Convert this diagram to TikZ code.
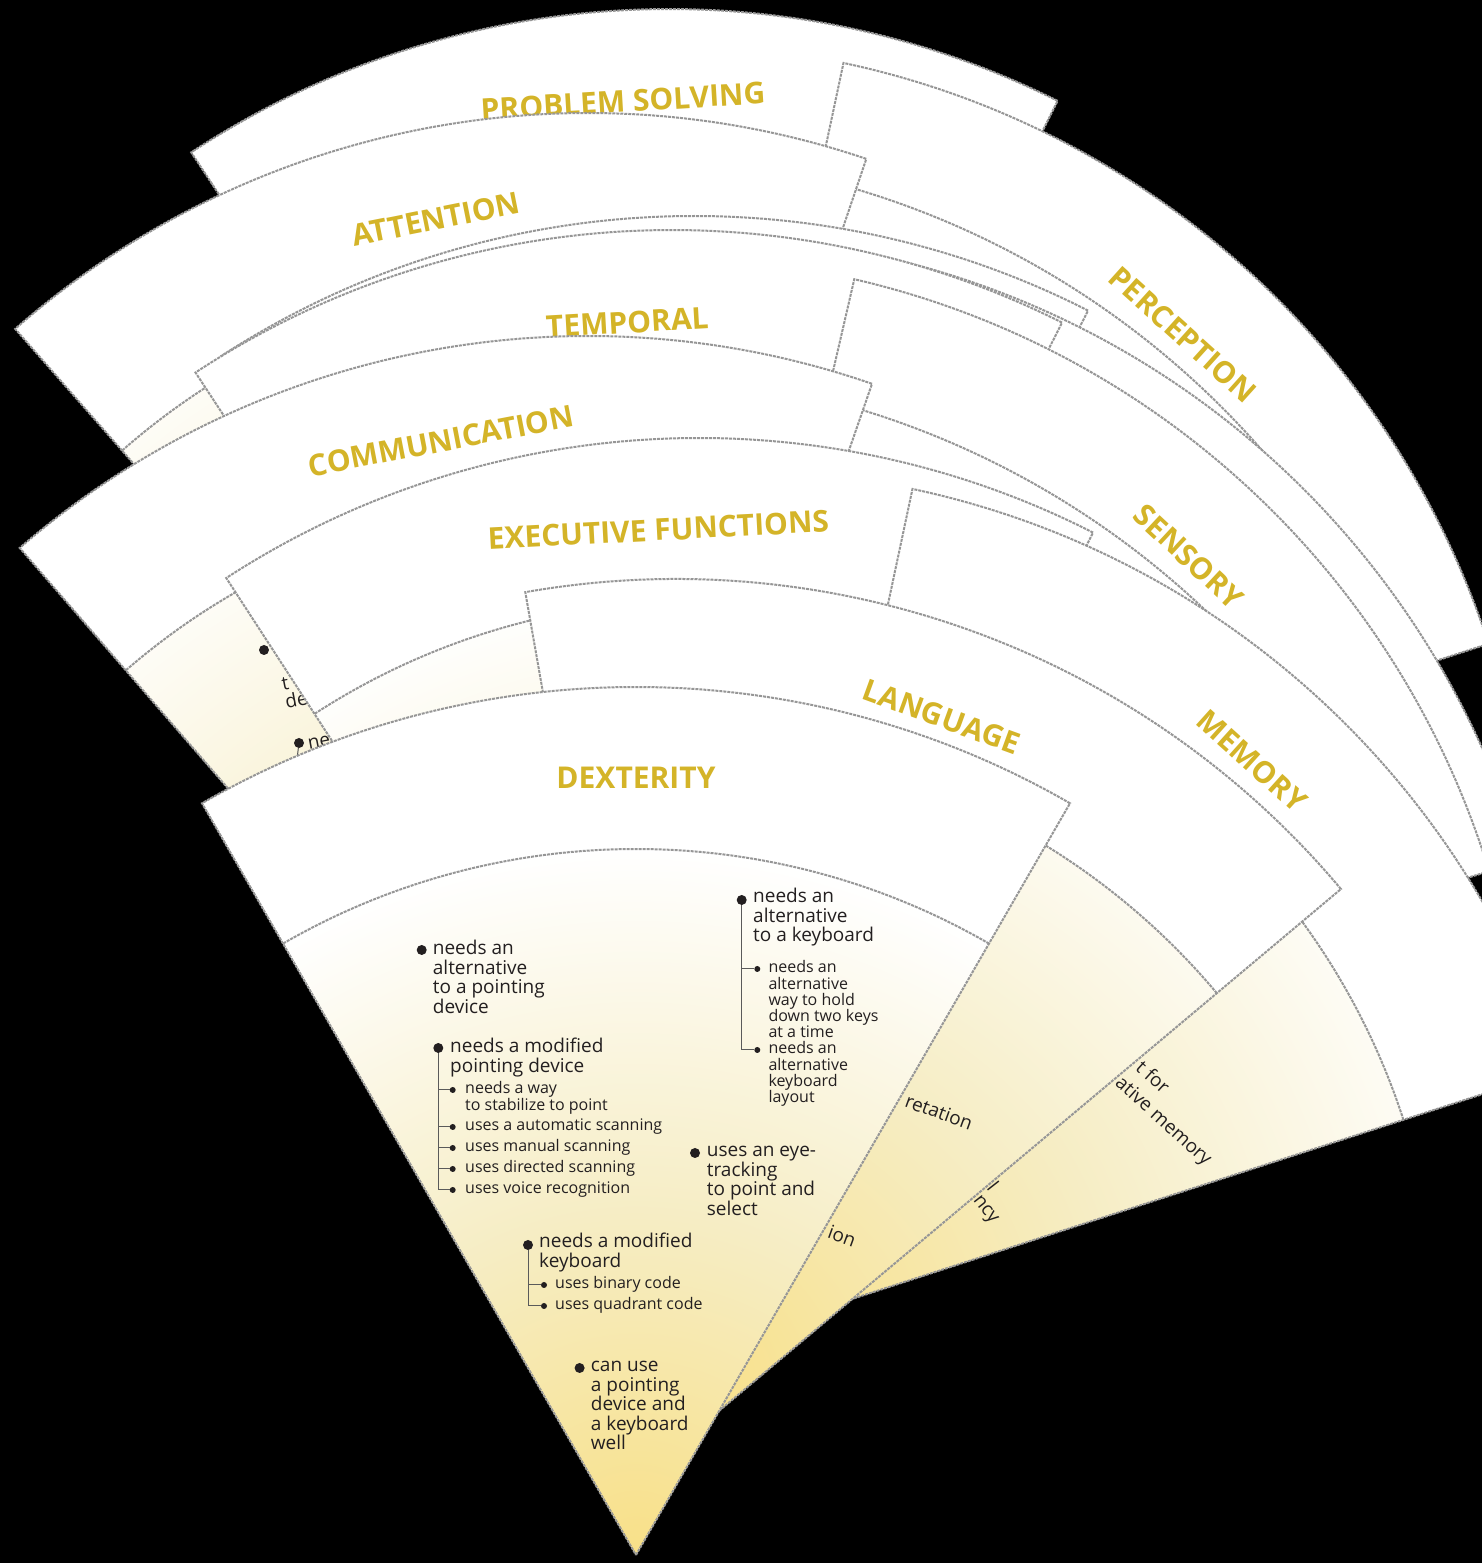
\documentclass[tikz,border=0pt]{standalone}
\usepackage{fontspec}
\setmainfont{Open Sans}
\usepackage{xcolor}

\definecolor{cardgray}{RGB}{150,150,150}
\definecolor{titlegold}{RGB}{212,180,40}
\definecolor{cardyellow}{RGB}{248,224,136}
\definecolor{cardcream}{RGB}{246,237,196}
\definecolor{inkdark}{RGB}{35,31,32}
\definecolor{branchgray}{RGB}{90,90,90}

\pgfdeclareradialshading{cardglow}{\pgfpoint{0bp}{0bp}}{color(0bp)=(cardyellow); color(12bp)=(cardcream); color(25bp)=(white); color(50bp)=(white)}

\newcommand{\cardlines}[1]{\vtop{\lineskiplimit=-1000pt\halign{##\hfil\cr#1\crcr}}}

\newcommand{\deckcard}[4]{%
  \begin{scope}[shift={(#1,#2)}, rotate=#3]
    \fill[white] (0,0) -- (60:868) arc (60:120:868) -- cycle;
    \begin{scope}
      \clip (0,0) -- (60:706) arc (60:120:706) -- cycle;
      \shade[shading=cardglow] (0,0) circle (706);
    \end{scope}
    \draw[cardedge] (60:706) arc (60:120:706);
    \draw[cardedge] (0,0) -- (60:868) arc (60:120:868) -- cycle;
    \if\relax\detokenize{#4}\relax\else
      \node[cardtitle, rotate=#3] at (90:777) {#4};
    \fi
  \end{scope}}

\begin{document}
\begin{tikzpicture}[x=1pt, y=1pt,
    cardedge/.style={draw=cardgray, line width=2pt, dash pattern=on 3pt off 1pt},
    cardtitle/.style={font=\fontsize{30}{30}\selectfont\bfseries, text=titlegold, inner sep=0pt},
    bigdot/.style={circle, fill=inkdark, inner sep=0pt, minimum size=10pt},
    smalldot/.style={circle, fill=inkdark, inner sep=0pt, minimum size=6pt},
    bigtext/.style={anchor=base west, inner sep=0pt, text=inkdark, font=\fontsize{19}{19.5}\selectfont},
    smalltext/.style={anchor=base west, inner sep=0pt, text=inkdark, font=\fontsize{16}{16.2}\selectfont},
    piece/.style={inner sep=0pt, text=inkdark, font=\fontsize{19}{19.5}\selectfont},
    branch/.style={draw=branchgray, line width=1pt}]
    \useasboundingbox (0,0) rectangle (1482,1563);
    \fill[black] (0,0) rectangle (1482,1563);

    \deckcard{669}{686}{3.4}{PROBLEM SOLVING}
    \deckcard{663}{651}{-42}{PERCEPTION}
    \deckcard{608}{542}{-40}{}
    \deckcard{588}{582}{11.3}{ATTENTION}
    \deckcard{694}{479}{3}{}
    \deckcard{690}{460}{-43}{}
    \deckcard{672}{465}{3.3}{TEMPORAL}
    \deckcard{659}{438}{-43}{SENSORY}
    \deckcard{608}{323}{-40}{}
    \deckcard{588}{359}{10.9}{COMMUNICATION}

    \node[bigdot] (commdot1) at (264,913) {};
    \node[bigtext, rotate=10.9, font=\fontsize{19}{18}\selectfont] (commtde) at (283,872) {\cardlines{t\cr de}};
    \node[bigdot] (commdot2) at (299,820) {};
    \node[bigtext, rotate=10.9] (commne) at (309,813) {ne};
    \coordinate (commfoot) at (294,780);
    \draw[branch] (commdot2) -- (commfoot);

    \deckcard{699}{257}{3}{EXECUTIVE FUNCTIONS}
    \deckcard{732}{225}{-42}{MEMORY}

    \node[piece, anchor=base west, rotate=-42, font=\fontsize{19}{25}\selectfont] (memfor) at (1131,497) {\cardlines{\hspace{4.7pt}t for\cr ative memory}};
    \node[piece, anchor=base west, rotate=-52, font=\fontsize{19}{18}\selectfont] (memncy) at (986,375) {\cardlines{l\cr \hspace{1.6pt}ncy}};

    \deckcard{676}{116}{-20}{LANGUAGE}

    \node[piece, rotate=-20] (langret) at (939,451) {retation};
    \node[piece, rotate=-20] (langion) at (842,327) {ion};

    \deckcard{636}{8}{0}{DEXTERITY}

    \node[bigdot] (ptalt) at (421.7,613) {};
    \node[bigtext] (ptalt-t) at (432.7,608) {\cardlines{needs an\cr alternative\cr to a pointing\cr device}};

    \node[bigdot] (ptmod) at (438.3,515) {};
    \node[bigtext] (ptmod-t) at (450,510) {\cardlines{needs a modified\cr pointing device}};
    \node[smalldot] (ptmod1) at (452.7,473) {};
    \node[smalltext] (ptmod1-t) at (465,469) {\cardlines{needs a way\cr to stabilize to point}};
    \node[smalldot] (ptmod2) at (452.7,436) {};
    \node[smalltext] (ptmod2-t) at (465,432) {uses a automatic scanning};
    \node[smalldot] (ptmod3) at (452.7,415) {};
    \node[smalltext] (ptmod3-t) at (465,411) {uses manual scanning};
    \node[smalldot] (ptmod4) at (452.7,394) {};
    \node[smalltext] (ptmod4-t) at (465,390) {uses directed scanning};
    \node[smalldot] (ptmod5) at (452.7,373) {};
    \node[smalltext] (ptmod5-t) at (465,369) {uses voice recognition};
    \draw[branch] (ptmod) |- (ptmod1);
    \draw[branch] (ptmod) |- (ptmod2);
    \draw[branch] (ptmod) |- (ptmod3);
    \draw[branch] (ptmod) |- (ptmod4);
    \draw[branch] (ptmod) |- (ptmod5);

    \node[bigdot] (kbalt) at (741.7,663) {};
    \node[bigtext] (kbalt-t) at (753,660) {\cardlines{needs an\cr alternative\cr to a keyboard}};
    \node[smalldot] (kbalt1) at (757.3,594) {};
    \node[smalltext] (kbalt1-t) at (768.3,590) {\cardlines{needs an\cr alternative\cr way to hold\cr down two keys\cr at a time}};
    \node[smalldot] (kbalt2) at (757.3,513) {};
    \node[smalltext] (kbalt2-t) at (768.3,509) {\cardlines{needs an\cr alternative\cr keyboard\cr layout}};
    \draw[branch] (kbalt) |- (kbalt1);
    \draw[branch] (kbalt) |- (kbalt2);

    \node[bigdot] (eyetrack) at (695,410) {};
    \node[bigtext] (eyetrack-t) at (706.7,406) {\cardlines{uses an eye-\cr tracking\cr to point and\cr select}};

    \node[bigdot] (kbmod) at (528,318) {};
    \node[bigtext] (kbmod-t) at (539,315) {\cardlines{needs a modified\cr keyboard}};
    \node[smalldot] (kbmod1) at (544,278) {};
    \node[smalltext] (kbmod1-t) at (555,274) {uses binary code};
    \node[smalldot] (kbmod2) at (544,257) {};
    \node[smalltext] (kbmod2-t) at (555,253) {uses quadrant code};
    \draw[branch] (kbmod) |- (kbmod1);
    \draw[branch] (kbmod) |- (kbmod2);

    \node[bigdot] (canuse) at (579.6,195) {};
    \node[bigtext] (canuse-t) at (590.7,191) {\cardlines{can use\cr a pointing\cr device and\cr a keyboard\cr well}};
\end{tikzpicture}
\end{document}
